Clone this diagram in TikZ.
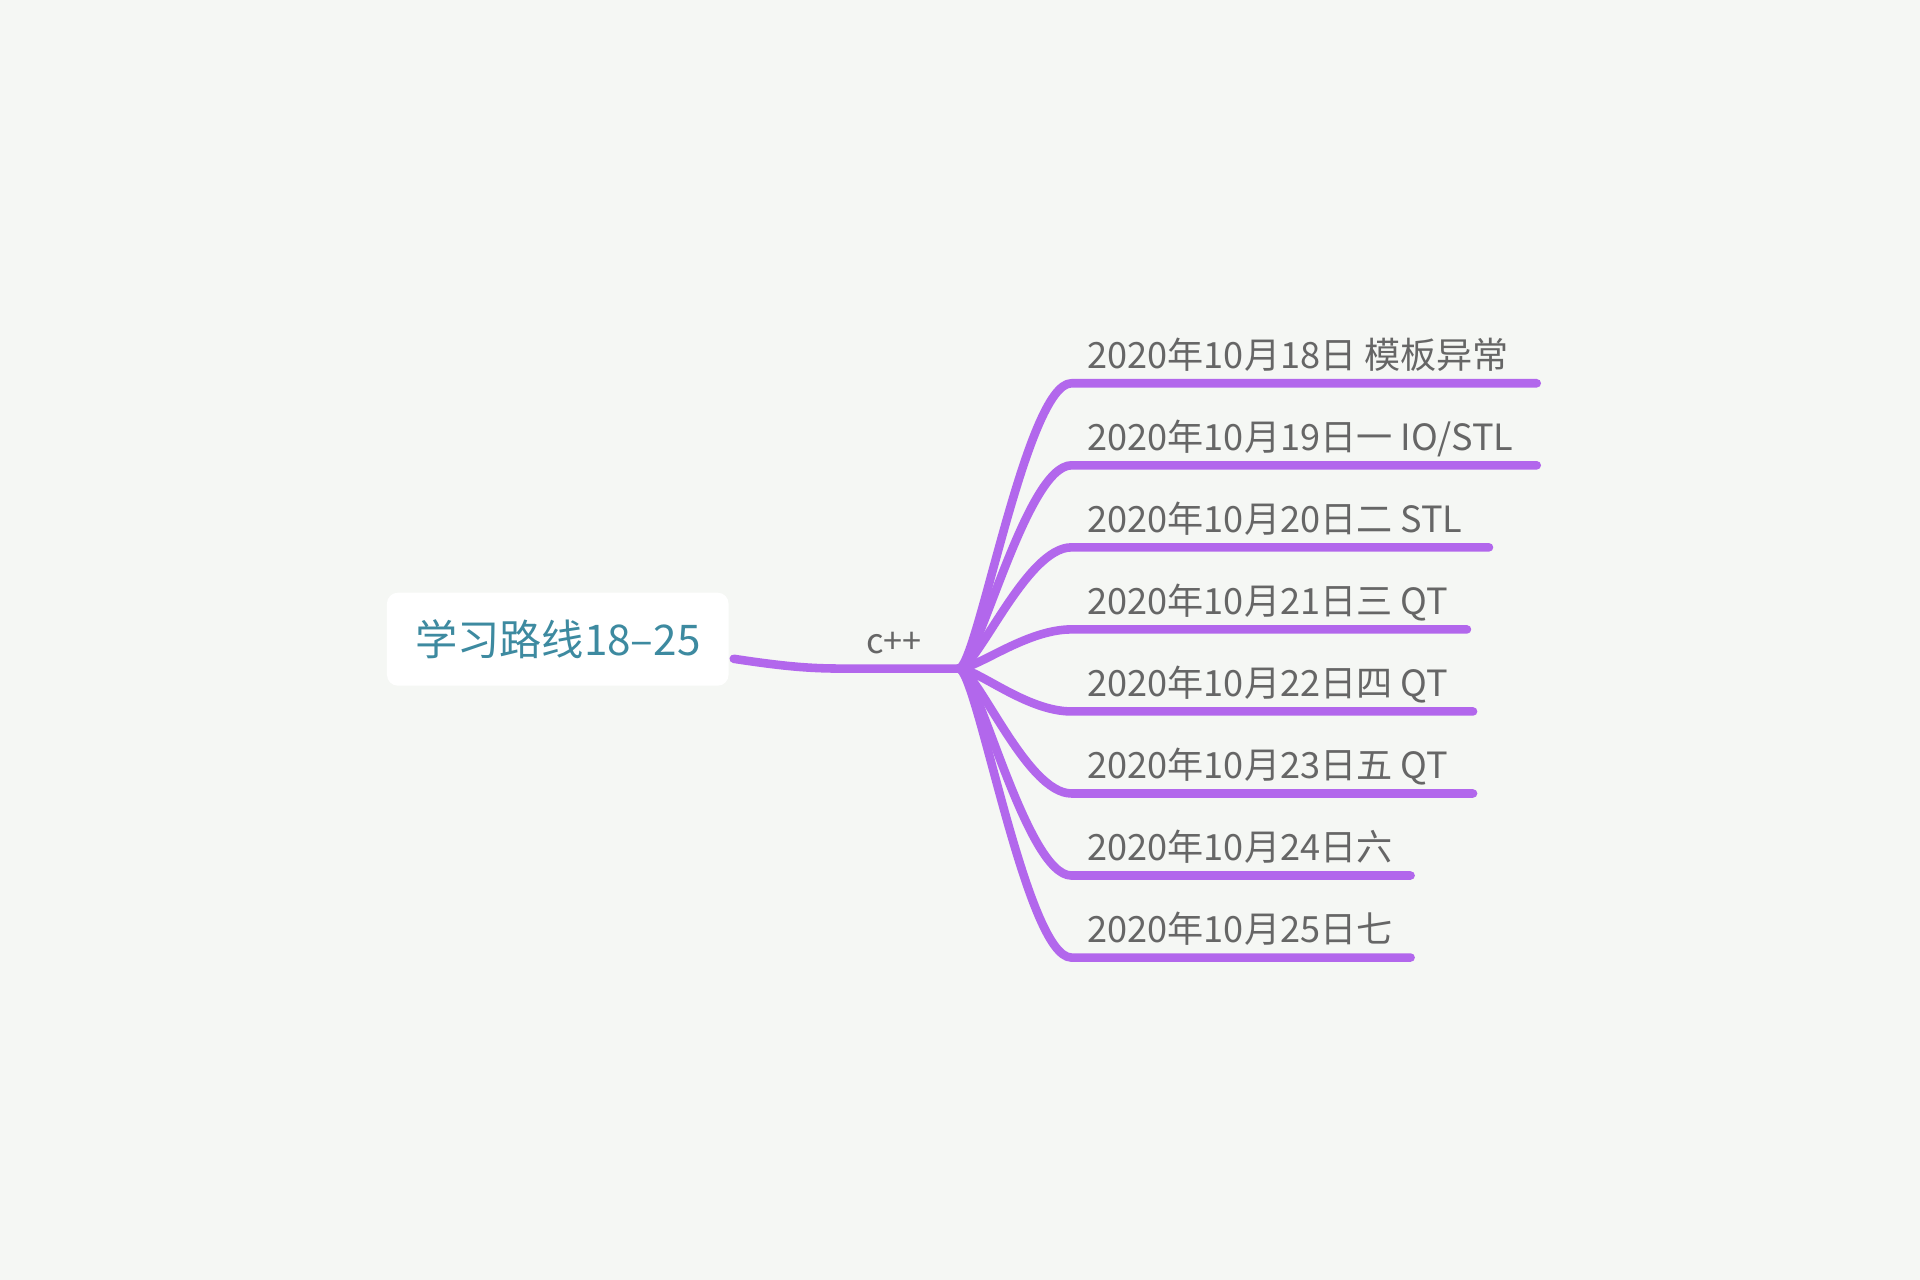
\documentclass[tikz,border=0pt]{standalone}
\usepackage{fontspec}
\setmainfont{Noto Sans CJK SC}
\usetikzlibrary{positioning}
\definecolor{PaperGray}{HTML}{F5F7F4}
\definecolor{BranchPurple}{HTML}{B267EC}
\definecolor{LabelGray}{HTML}{666666}
\definecolor{RootTeal}{HTML}{3D8AA0}
\tikzset{
	branch/.style={line width=7pt, BranchPurple, line cap=round, line join=round},
	datelabel/.style={text=LabelGray, font=\fontsize{29.5}{34}\selectfont, inner sep=0pt, anchor=base west}
}
\begin{document}
\begin{tikzpicture}[x=1pt,y=-1pt]
			\fill[PaperGray] (0,0) rectangle (1568,1045);
			\coordinate (hub) at (783,546);
			\coordinate (knee) at (690,546);
			\node[fill=white, rounded corners=9pt, minimum width=279pt, minimum height=76pt, inner sep=0pt, text=RootTeal, font=\fontsize{34.5}{40}\selectfont] (root) at (455.5,522) {学习路线18–25};
			\draw[branch] ([xshift=4pt,yshift=-16pt]root.east) .. controls (645,545) and (665,546) .. (knee) -- (hub);
			\node[text=LabelGray, font=\fontsize{28}{32}\selectfont, inner sep=0pt, anchor=base] (cpp) at (730,534) {c++};
			\foreach \y/\x/\txt [count=\i] in {313/1255/{2020年10月18日 模板异常}, 380/1255/{2020年10月19日一 IO/STL}, 447/1216/{2020年10月20日二 STL}, 514/1198/{2020年10月21日三 QT}, 581/1203/{2020年10月22日四 QT}, 648/1203/{2020年10月23日五 QT}, 715/1152/{2020年10月24日六}, 782/1152/{2020年10月25日七}}{
				\coordinate (b\i) at (875,\y);
				\coordinate (e\i) at (\x,\y);
				\node[datelabel] (l\i) at (888,\y-12) {\txt};
				\draw[branch] (hub) .. controls (798,546) and (838,\y) .. (b\i) -- (e\i);
			}
		\end{tikzpicture}
\end{document}
